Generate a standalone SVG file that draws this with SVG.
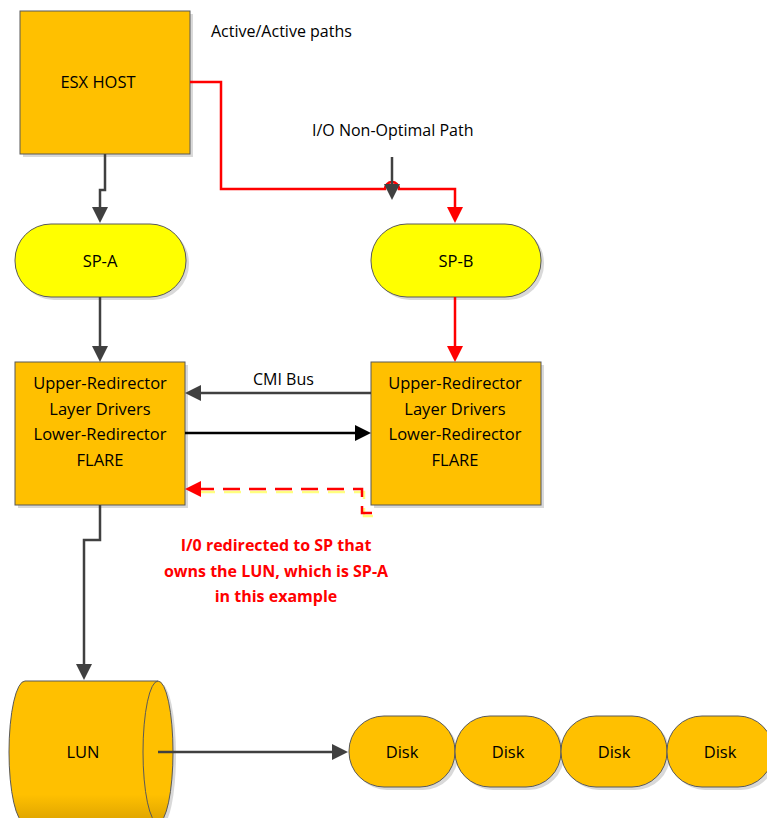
<svg xmlns="http://www.w3.org/2000/svg" width="767" height="818" viewBox="0 0 767 818">
<style>
.t{font-family:"Open Sans","Liberation Sans",sans-serif;font-size:16.5px;fill:#000;text-anchor:middle}
.lbl{font-family:"Open Sans","Liberation Sans",sans-serif;font-size:16px;fill:#000}
.red{font-family:"Open Sans","Liberation Sans",sans-serif;font-size:16px;font-weight:bold;fill:#ff0000;text-anchor:middle}
.box{fill:#ffc000;stroke:#595959;stroke-width:1}
.sp{fill:#ffff00;stroke:#595959;stroke-width:1}
.sh{fill:#d9d9d9}
.g{fill:none;stroke:#404040;stroke-width:2.5}
.r{fill:none;stroke:#ff0000;stroke-width:2.5}
.k{fill:none;stroke:#000;stroke-width:2.5}
</style>
<defs>
<marker id="ag" viewBox="0 0 16 16" refX="12" refY="8" markerWidth="16" markerHeight="16" markerUnits="userSpaceOnUse" orient="auto"><path d="M0,0 L16,8 L0,16 z" fill="#404040"/></marker>
<marker id="ar" viewBox="0 0 16 16" refX="12" refY="8" markerWidth="16" markerHeight="16" markerUnits="userSpaceOnUse" orient="auto"><path d="M0,0 L16,8 L0,16 z" fill="#ff0000"/></marker>
<marker id="ak" viewBox="0 0 16 16" refX="12" refY="8" markerWidth="16" markerHeight="16" markerUnits="userSpaceOnUse" orient="auto"><path d="M0,0 L16,8 L0,16 z" fill="#000"/></marker>
<linearGradient id="lung" x1="0" y1="0" x2="0" y2="1">
<stop offset="0" stop-color="#ffc000"/><stop offset="0.8" stop-color="#ffc000"/><stop offset="1" stop-color="#dca200"/>
</linearGradient>
</defs>

<g id="esx-host">
<rect class="sh" x="23" y="14" width="170" height="143"/>
<rect class="box" x="20" y="11" width="170" height="143"/>
<text class="t" x="98" y="88">ESX HOST</text>
</g>

<g id="label-active">
<text class="lbl" x="211" y="37">Active/Active paths</text>
</g>
<g id="label-nonoptimal">
<text class="lbl" x="312" y="136">I/O Non-Optimal Path</text>
</g>

<g id="sp-a">
<rect class="sh" x="18" y="227" width="171" height="73" rx="36" ry="36"/>
<rect class="sp" x="15" y="224" width="171" height="73" rx="36" ry="36"/>
<text class="t" x="100" y="267">SP-A</text>
</g>

<g id="sp-b">
<rect class="sh" x="374" y="227" width="170" height="73" rx="36" ry="36"/>
<rect class="sp" x="371" y="224" width="170" height="73" rx="36" ry="36"/>
<text class="t" x="456" y="267">SP-B</text>
</g>

<g id="redirector-a">
<rect class="sh" x="18" y="365" width="170" height="143"/>
<rect class="box" x="15" y="362" width="170" height="143"/>
<text class="t" x="100" y="389">Upper-Redirector</text>
<text class="t" x="100" y="415">Layer Drivers</text>
<text class="t" x="100" y="440">Lower-Redirector</text>
<text class="t" x="100" y="466">FLARE</text>
</g>

<g id="redirector-b">
<rect class="sh" x="374" y="365" width="170" height="143"/>
<rect class="box" x="371" y="362" width="170" height="143"/>
<text class="t" x="455" y="389">Upper-Redirector</text>
<text class="t" x="455" y="415">Layer Drivers</text>
<text class="t" x="455" y="440">Lower-Redirector</text>
<text class="t" x="455" y="466">FLARE</text>
</g>

<g id="label-cmi">
<text class="lbl" x="253" y="385">CMI Bus</text>
</g>

<g id="label-redirect">
<text class="red" x="276" y="551">I/0 redirected to SP that</text>
<text class="red" x="276" y="577">owns the LUN, which is SP-A</text>
<text class="red" x="276" y="602">in this example</text>
</g>

<g id="lun">
<path d="M28 684 L161 684 A15 71 0 0 1 161 826 L28 826 A16 71 0 0 1 28 684 Z" fill="#d9d9d9"/>
<path d="M25 681 L158 681 A15 71 0 0 1 158 823 L25 823 A16 71 0 0 1 25 681 Z" fill="url(#lung)" stroke="#595959" stroke-width="1"/>
<path d="M158 681 A15 71 0 0 0 158 823" fill="none" stroke="#595959" stroke-width="1"/>
<text class="t" x="83" y="758">LUN</text>
</g>

<g id="disk-1">
<rect class="sh" x="352" y="719" width="106" height="71" rx="35" ry="35"/>
<rect class="box" x="349" y="716" width="106" height="71" rx="35" ry="35"/>
<text class="t" x="402" y="758">Disk</text>
</g>
<g id="disk-2">
<rect class="sh" x="458" y="719" width="106" height="71" rx="35" ry="35"/>
<rect class="box" x="455" y="716" width="106" height="71" rx="35" ry="35"/>
<text class="t" x="508" y="758">Disk</text>
</g>
<g id="disk-3">
<rect class="sh" x="564" y="719" width="106" height="71" rx="35" ry="35"/>
<rect class="box" x="561" y="716" width="106" height="71" rx="35" ry="35"/>
<text class="t" x="614" y="758">Disk</text>
</g>
<g id="disk-4">
<rect class="sh" x="670" y="719" width="106" height="71" rx="35" ry="35"/>
<rect class="box" x="667" y="716" width="106" height="71" rx="35" ry="35"/>
<text class="t" x="720" y="758">Disk</text>
</g>

<g id="connectors">
<path class="g" d="M105 154 V190 H100 V219" marker-end="url(#ag)"/>
<path class="r" d="M190 82 H221 V189 H385 A7 7 0 0 1 399 189 H455 V219" marker-end="url(#ar)"/>
<path class="g" d="M392 157 V196" marker-end="url(#ag)"/>
<path class="g" d="M100 297 V358" marker-end="url(#ag)"/>
<path class="r" d="M455 297 V358" marker-end="url(#ar)"/>
<path class="g" d="M371 393 H189" marker-end="url(#ag)"/>
<path class="k" d="M185 433 H367" marker-end="url(#ak)"/>
<path d="M373 516 H364 V492 H193" fill="none" stroke="#ffff80" stroke-width="2.5" stroke-dasharray="17 9"/>
<path class="r" d="M372 513 H362 V489 H189" stroke-dasharray="17 9" marker-end="url(#ar)"/>
<path class="g" d="M100 505 V540 H84 V676" marker-end="url(#ag)"/>
<path class="g" d="M158 752 H344" marker-end="url(#ag)"/>
</g>
</svg>
